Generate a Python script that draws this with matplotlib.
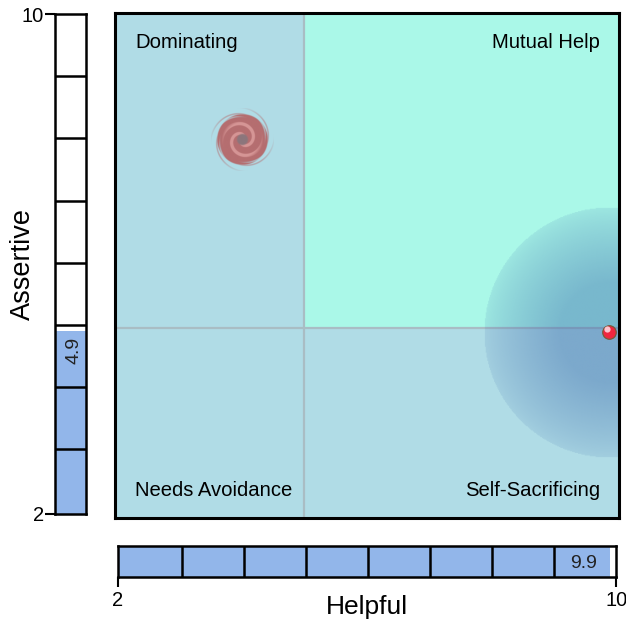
# -*- coding:UTF-8 -*-
import matplotlib
matplotlib.use('Agg')
import matplotlib.pyplot as plt
import numpy as np

plt.rcParams['font.family'] = ['Liberation Sans', 'DejaVu Sans']

scaleMin = 2
scaleMax = 10
midX = 5.03
midY = 4.97
helpful = 9.9
assertive = 4.9
focusX = 4.04
focusY = 7.97
blobRadius = 2
quadrantLabels = ['Dominating', 'Mutual Help', 'Needs Avoidance', 'Self-Sacrificing']

W = 626.0
H = 619.0
barColor = '#92B6EA'
tealColor = '#AAF8E8'
paleColor = '#B0DCE6'
lineColor = '#A9BDC4'


def axPx(left, top, right, bottom):
    # 按像素位置建坐标轴
    return fig.add_axes([left / W, 1 - bottom / H, (right - left) / W, (bottom - top) / H])


def blobImage():
    n = 300
    xs, ys = np.meshgrid(np.linspace(-1, 1, n), np.linspace(-1, 1, n))
    r = np.sqrt(xs ** 2 + ys ** 2)
    img = np.zeros((n, n, 4))
    img[..., :3] = np.array([63, 109, 174]) / 255.0
    alpha = 0.12 + 0.34 * np.clip((1 - r) / 0.6, 0, 1) ** 0.8
    alpha[r > 1] = 0
    img[..., 3] = alpha
    return img


def spiralImage():
    n = 360
    xs, ys = np.meshgrid(np.linspace(-1, 1, n), np.linspace(1, -1, n))
    r = np.sqrt(xs ** 2 + ys ** 2) + 1e-6
    t = np.arctan2(ys, xs)
    base = np.array([181, 110, 112]) / 255.0
    light = np.array([214, 150, 150]) / 255.0
    dark = np.array([140, 118, 124]) / 255.0
    # 中间两条旋臂
    inner = np.cos(2 * t - 19 * r)
    arm = np.clip((inner - 0.35) / 0.35, 0, 1) * np.clip((0.66 - r) / 0.12, 0, 1) * np.clip((r - 0.1) / 0.08, 0, 1)
    core = np.clip((0.2 - r) / 0.05, 0, 1)
    img = np.zeros((n, n, 4))
    for i in range(3):
        img[..., i] = base[i] * (1 - arm) + light[i] * arm
        img[..., i] = img[..., i] * (1 - core) + dark[i] * core
    # 外圈四条细弧
    outer = np.cos(4 * t - 31 * r)
    wisp = np.clip((outer - 0.6) / 0.3, 0, 1) * np.clip((1.02 - r) / 0.12, 0, 1) * (r > 0.8) * 0.5
    gap = np.clip((-outer - 0.6) / 0.3, 0, 1) * np.clip((r - 0.7) / 0.06, 0, 1) * 0.6
    disc = np.clip((0.82 - r) / 0.03, 0, 1) * (1 - gap)
    img[..., 3] = np.maximum(disc, wisp)
    return img


fig = plt.figure(figsize=(W / 100, H / 100), dpi=100)

# 主图
ax = axPx(114.5, 12.5, 619, 517.5)
ax.set_facecolor(paleColor)
ax.fill_between([midX, scaleMax + 1], midY, scaleMax + 1, color=tealColor, lw=0, zorder=1)
ax.axvline(midX, color=lineColor, lw=1.6, zorder=2)
ax.axhline(midY, color=lineColor, lw=1.6, zorder=2)
ax.imshow(blobImage(), extent=[helpful - blobRadius, helpful + blobRadius, assertive - blobRadius, assertive + blobRadius],
          aspect='auto', zorder=3)
ax.imshow(spiralImage(), extent=[focusX - 0.5, focusX + 0.5, focusY - 0.5, focusY + 0.5],
          aspect='auto', zorder=3)
ax.set_xlim(scaleMin, 10.06)
ax.set_ylim(1.946, scaleMax)
ax.scatter([helpful], [assertive], s=95, color='#F0263F', edgecolors='#7A5A3A', linewidths=0.9, zorder=5)
ax.scatter([helpful - 0.025], [assertive + 0.05], s=20, color='#FFC4CE', linewidths=0, zorder=6)
ax.set_xticks([])
ax.set_yticks([])
for s in ax.spines.values():
    s.set_linewidth(2.2)
    s.set_zorder(10)
fontQ = 14.6
ax.annotate(quadrantLabels[0], (0, 1), xycoords='axes fraction', xytext=(20.5, -29.5), textcoords='offset pixels',
            fontsize=fontQ, ha='left', va='center')
ax.annotate(quadrantLabels[1], (1, 1), xycoords='axes fraction', xytext=(-19, -29.5), textcoords='offset pixels',
            fontsize=fontQ, ha='right', va='center')
ax.annotate(quadrantLabels[2], (0, 0), xycoords='axes fraction', xytext=(20.5, 27), textcoords='offset pixels',
            fontsize=fontQ, ha='left', va='center')
ax.annotate(quadrantLabels[3], (1, 0), xycoords='axes fraction', xytext=(-19, 27), textcoords='offset pixels',
            fontsize=fontQ, ha='right', va='center')

# 左边的条，第一格比其余的略长
leftStart = 1.965
axLeft = axPx(55, 14, 86, 513.7)
axLeft.set_xlim(0, 1)
axLeft.set_ylim(leftStart, scaleMax)
axLeft.bar([0.5], [assertive - leftStart], width=1, bottom=leftStart, color=barColor, zorder=1)
for v in range(scaleMin + 1, scaleMax):
    axLeft.axhline(v, color='black', lw=1.8, zorder=2)
axLeft.text(0.6, assertive - 0.31, '%.1f' % assertive, rotation=90, ha='center', va='center', fontsize=14,
            color='#222222', zorder=3)
axLeft.set_xticks([])
axLeft.set_yticks([leftStart, scaleMax], [str(scaleMin), str(scaleMax)])
axLeft.tick_params(axis='y', length=7, width=1.5, labelsize=14.5, pad=1)
axLeft.set_ylabel('Assertive', fontsize=19.5, labelpad=-10)
for s in axLeft.spines.values():
    s.set_linewidth(1.8)

# 底部的条
bottomStart = 1.963
axBottom = axPx(118, 546, 616.3, 577)
axBottom.set_ylim(0, 1)
axBottom.set_xlim(bottomStart, scaleMax)
axBottom.barh([0.5], [helpful - bottomStart], height=1, left=bottomStart, color=barColor, zorder=1)
for v in range(scaleMin + 1, scaleMax):
    axBottom.axvline(v, color='black', lw=1.8, zorder=2)
axBottom.text(helpful - 0.42, 0.42, '%.1f' % helpful, ha='center', va='center', fontsize=14,
              color='#222222', zorder=3)
axBottom.set_yticks([])
axBottom.set_xticks([bottomStart, scaleMax], [str(scaleMin), str(scaleMax)])
axBottom.tick_params(axis='x', length=7, width=1.5, labelsize=14.5, pad=3)
axBottom.set_xlabel('Helpful', fontsize=19, labelpad=-11)
for s in axBottom.spines.values():
    s.set_linewidth(1.8)

fig.savefig('out.png', dpi=100)
